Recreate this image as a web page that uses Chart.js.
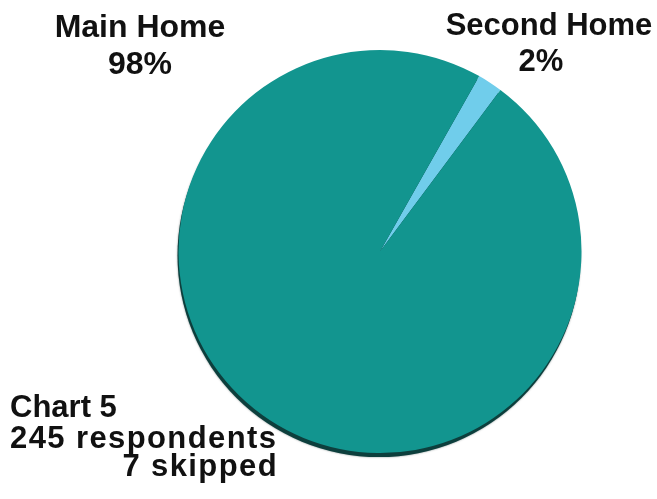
<!DOCTYPE html>
<html>
<head>
<meta charset="utf-8">
<script src="https://cdn.jsdelivr.net/npm/chart.js@4/dist/chart.umd.min.js"></script>
<style>
  html, body { margin: 0; padding: 0; background: #fff; }
  #wrap { width: 657px; height: 499px; position: relative; }
</style>
</head>
<body>
<div id="wrap"><canvas id="homeChart" width="657" height="499"></canvas></div>
<script>
// Residence type split
const categories = ['Second Home', 'Main Home'];
const shares = [2, 98];
const sliceColors = ['#70cdeb', '#12958f'];
const percentLabels = ['2%', '98%'];
const noteLines = ['Chart 5', '245 respondents', '7 skipped'];

const FAMILY = '"Liberation Sans", Arial, sans-serif';

/**
 * Dark rim under the pie, offset downwards
 */
const rimShadow = {
    id: 'rimShadow',
    beforeDatasetsDraw(chart) {
        const arc = chart.getDatasetMeta(0).data[0];
        if (!arc) return;
        const ctx = chart.ctx;
        ctx.save();
        ctx.beginPath();
        ctx.arc(arc.x - 1, arc.y + 4, arc.outerRadius, 0, Math.PI * 2);
        ctx.fillStyle = '#0d3f3d';
        ctx.shadowColor = 'rgba(0, 30, 30, 0.5)';
        ctx.shadowBlur = 2;
        ctx.fill();
        ctx.restore();
    }
};

/**
 * Category labels and respondent note
 */
const textLabels = {
    id: 'textLabels',
    afterDraw(chart) {
        const ctx = chart.ctx;
        ctx.save();
        ctx.fillStyle = '#111';
        ctx.textBaseline = 'alphabetic';

        ctx.textAlign = 'center';
        ctx.font = 'bold 32px ' + FAMILY;
        ctx.fillText(categories[1], 140, 37);
        ctx.fillText(percentLabels[1], 140, 74);
        ctx.font = 'bold 31px ' + FAMILY;
        ctx.fillText(categories[0], 549, 35);
        ctx.fillText(percentLabels[0], 541, 71);

        ctx.textAlign = 'left';
        ctx.fillText(noteLines[0], 10, 417);
        ctx.letterSpacing = '1.4px';
        ctx.fillText(noteLines[1], 10, 448);
        ctx.textAlign = 'right';
        ctx.fillText(noteLines[2], 278, 476);
        ctx.restore();
    }
};

const ctx = document.getElementById('homeChart').getContext('2d');
const homeChart = new Chart(ctx, {
    type: 'pie',
    data: {
        labels: categories,
        datasets: [{
            data: shares,
            backgroundColor: sliceColors,
            borderWidth: 0
        }]
    },
    options: {
        responsive: false,
        animation: false,
        rotation: 29.5,
        layout: {
            padding: { left: 178, right: 75, top: 50, bottom: 46 }
        },
        plugins: {
            legend: { display: false },
            tooltip: { enabled: false }
        }
    },
    plugins: [rimShadow, textLabels]
});
</script>
</body>
</html>
